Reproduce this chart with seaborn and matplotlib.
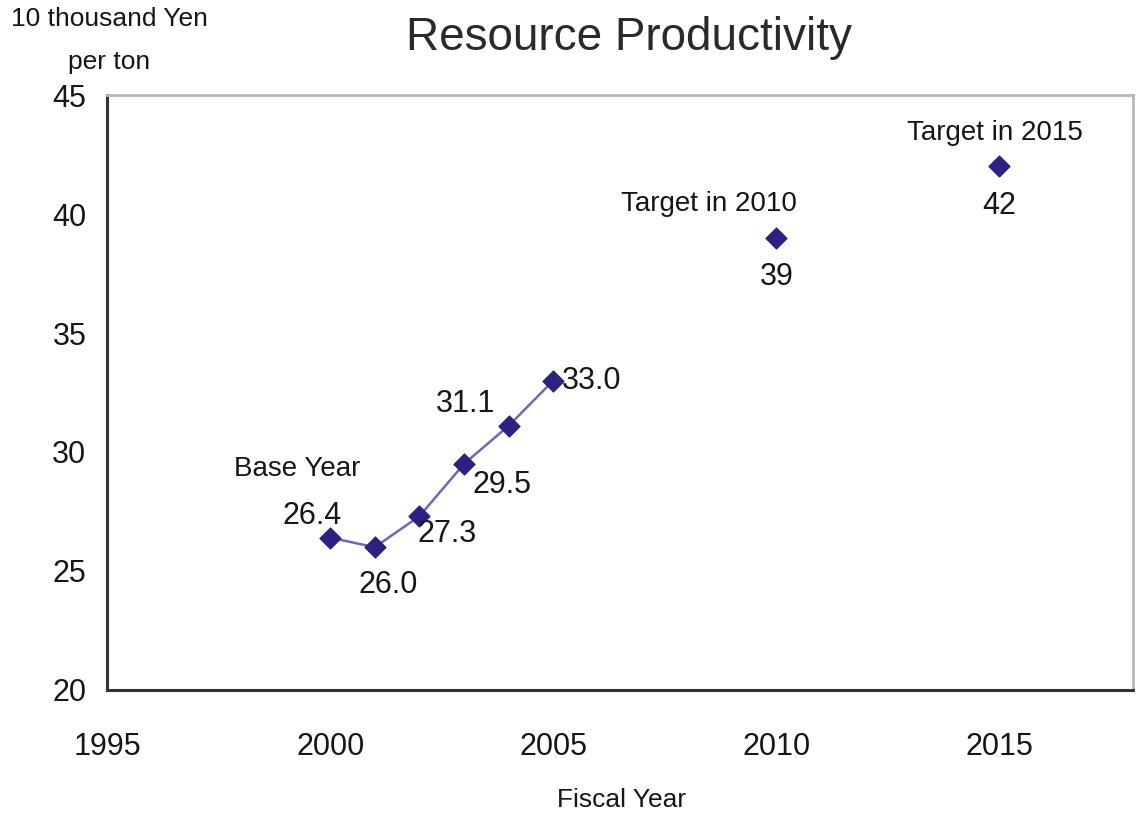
import matplotlib
matplotlib.use("Agg")
import matplotlib.pyplot as plt
import seaborn as sns
import pandas as pd

# Actual resource productivity (10 thousand yen per ton)
years = [2000, 2001, 2002, 2003, 2004, 2005]
values = [26.4, 26.0, 27.3, 29.5, 31.1, 33.0]
value_labels = ["26.4", "26.0", "27.3", "29.5", "31.1", "33.0"]

# Targets
target_years = [2010, 2015]
target_values = [39, 42]
target_labels = ["39", "42"]
target_titles = ["Target in 2010", "Target in 2015"]

x_ticks = [1995, 2000, 2005, 2010, 2015]
y_ticks = [20, 25, 30, 35, 40, 45]

sns.set_theme(style="white")
plt.rcParams["font.family"] = ["Liberation Sans", "DejaVu Sans"]

line_color = "#6f68b4"
marker_color = "#2b2182"
text_color = "#161616"

fig = plt.figure(figsize=(11.39, 8.15), dpi=100)
ax = fig.add_axes([0.094, 0.1534, 0.901, 0.730])

actual = pd.DataFrame({"year": years, "value": values})
targets = pd.DataFrame({"year": target_years, "value": target_values})

sns.lineplot(data=actual, x="year", y="value", ax=ax, color=line_color,
             linewidth=1.8, zorder=2)
sns.scatterplot(data=actual, x="year", y="value", ax=ax, marker="D", s=115,
                color=marker_color, edgecolor=marker_color, zorder=3)
sns.scatterplot(data=targets, x="year", y="value", ax=ax, marker="D", s=115,
                color=marker_color, edgecolor=marker_color, zorder=3)

ax.set_xlim(1995, 2018)
ax.set_ylim(20, 45)
ax.set_xticks(x_ticks)
ax.set_yticks(y_ticks)
ax.set_xticklabels([str(t) for t in x_ticks], fontsize=22, color=text_color)
ax.set_yticklabels([str(t) for t in y_ticks], fontsize=22, color=text_color)
ax.tick_params(axis="x", direction="in", length=5, width=1.5, pad=30,
               colors="#333333", labelcolor=text_color)
ax.tick_params(axis="y", direction="in", length=0, pad=15,
               labelcolor=text_color)
ax.set_xlabel("")
ax.set_ylabel("")

for side in ["left", "bottom"]:
    ax.spines[side].set_color("#333333")
    ax.spines[side].set_linewidth(2.2)
for side in ["top", "right"]:
    ax.spines[side].set_color("#b8b8b8")
    ax.spines[side].set_linewidth(2.0)

# Value labels around the actual series
offsets = {
    0: (-0.4, 0.9, "center"),
    1: (0.3, -1.6, "center"),
    2: (-0.05, -0.75, "left"),
    3: (0.2, -0.9, "left"),
    4: (-0.3, 0.9, "right"),
    5: (0.2, 0.0, "left"),
}
for i, (x, y, lab) in enumerate(zip(years, values, value_labels)):
    dx, dy, ha = offsets[i]
    ax.text(x + dx, y + dy, lab, fontsize=22, ha=ha, va="center",
            color=text_color)

ax.text(years[0] - 0.75, values[0] + 2.9, "Base Year", fontsize=20,
        ha="center", va="center", color=text_color)

for x, y, lab, title in zip(target_years, target_values, target_labels,
                            target_titles):
    ax.text(x - 1.5 if x == 2010 else x - 0.1, y + 1.4, title, fontsize=20,
            ha="center", va="center", color=text_color)
    ax.text(x, y - 1.65, lab, fontsize=22, ha="center", va="center",
            color=text_color)

fig.text(0.552, 0.953, "Resource Productivity", fontsize=33, ha="center",
         va="center", color="#2a2a2a")
fig.text(0.096, 0.977, "10 thousand Yen", fontsize=19, ha="center",
         va="center", color=text_color)
fig.text(0.096, 0.924, "per ton", fontsize=19, ha="center", va="center",
         color=text_color)
fig.text(0.546, 0.018, "Fiscal Year", fontsize=19, ha="center",
         va="center", color=text_color)

fig.savefig("out.png", dpi=100, facecolor="white")
